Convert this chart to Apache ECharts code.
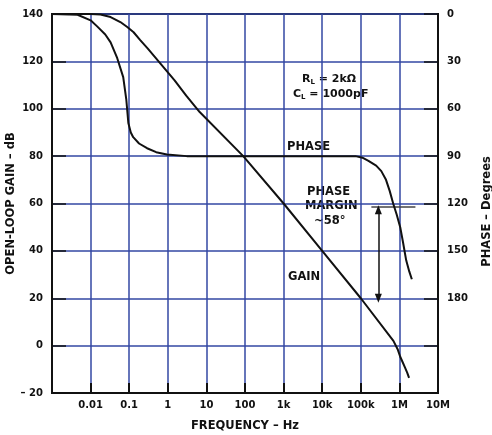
<!DOCTYPE html>
<html>
<head>
<meta charset="utf-8">
<script src="https://cdn.jsdelivr.net/npm/echarts@6/dist/echarts.min.js"></script>
<style>
html,body{margin:0;padding:0;background:#fff;}
#main{width:492px;height:435px;}
</style>
</head>
<body>
<div id="main"></div>
<script>
// open-loop gain vs frequency
var gainFreq = [0.001, 0.01, 0.018, 0.033, 0.059, 0.089, 0.13, 0.193, 0.3, 0.63, 1.5, 3, 6.7, 90, 1000, 10000, 100000, 700000, 900000, 1050000, 1200000, 1400000, 1600000, 1780000];
var gainDb   = [140, 140, 139.8, 138.7, 136.6, 134.5, 132.3, 129, 125.5, 119.3, 112, 105.5, 98.6, 80, 60, 40, 20, 2, -1.5, -4.7, -6.8, -9.3, -11.5, -13.6];

// phase, degrees (right axis, inverted)
var phaseFreq = [0.001, 0.0046, 0.01, 0.015, 0.024, 0.033, 0.049, 0.07, 0.084, 0.095, 0.11, 0.127, 0.18, 0.29, 0.5, 0.95, 3.1, 73000, 110000, 158000, 250000, 340000, 450000, 560000, 690000, 850000, 1050000, 1250000, 1500000, 1800000, 2100000];
var phaseDeg  = [0, 0.5, 4, 8, 13, 18, 28, 40, 54, 69, 75, 78, 82, 85, 87.5, 89, 90, 90, 91, 93, 96, 99.5, 105, 112, 120, 127, 135, 145, 156, 163, 168];

var freqLabels = ['', '0.01', '0.1', '1', '10', '100', '1k', '10k', '100k', '1M', '10M'];
var gainTicks = [-20, 0, 20, 40, 60, 80, 100, 120, 140];
var phaseTicks = [0, 30, 60, 90, 120, 150, 180];

var marginDeg = 122;
var marginFreq = 285000;

function pairs(xs, ys) {
    var out = [];
    for (var i = 0; i < xs.length; i++) out.push([xs[i], ys[i]]);
    return out;
}

var gridBlue = '#3347a3';
var fontFam = '"DejaVu Sans", sans-serif';
var labelFont = 'bold 11.5px ' + fontFam;

var myChart = echarts.init(document.getElementById('main'));
var option = {
    animation: false,
    grid: {
        left: 52, right: 54, top: 14, bottom: 42,
        outerBoundsMode: 'none',
        containLabel: false,
        show: true, borderColor: '#111', borderWidth: 2
    },
    xAxis: {
        type: 'log',
        logBase: 10,
        min: 0.001,
        max: 10000000,
        interval: 1,
        name: 'FREQUENCY – Hz',
        nameLocation: 'middle',
        nameGap: 27,
        nameMoveOverlap: false,
        nameTextStyle: {color: '#111', fontWeight: 'bold', fontSize: 11.5, fontFamily: fontFam},
        axisLine: {onZero: false, lineStyle: {color: '#111', width: 2}},
        axisTick: {inside: true, length: 10, lineStyle: {color: '#111', width: 2}},
        axisLabel: {
            color: '#111', fontWeight: 'bold', fontSize: 10, fontFamily: fontFam, margin: 7,
            formatter: function (v) {
                var k = Math.round(Math.log10(v)) + 3;
                return freqLabels[k] || '';
            }
        },
        splitLine: {show: true, lineStyle: {color: gridBlue, width: 1.5}}
    },
    yAxis: [{
        type: 'value',
        min: -20, max: 140, interval: 20,
        name: 'OPEN-LOOP GAIN – dB',
        nameLocation: 'middle',
        nameRotate: 90,
        nameGap: 35,
        nameMoveOverlap: false,
        nameTextStyle: {color: '#111', fontWeight: 'bold', fontSize: 11.5, fontFamily: fontFam},
        axisLine: {onZero: false, lineStyle: {color: '#111', width: 2}},
        axisTick: {inside: true, length: 14, lineStyle: {color: '#111', width: 1.5}},
        axisLabel: {
            color: '#111', fontWeight: 'bold', fontSize: 10, fontFamily: fontFam, margin: 9,
            formatter: function (v) {
                if (gainTicks.indexOf(v) < 0) return '';
                return v < 0 ? '– ' + Math.abs(v) : String(v);
            }
        },
        splitLine: {show: true, lineStyle: {color: gridBlue, width: 1.5}}
    }, {
        type: 'value',
        inverse: true,
        min: 0, max: 240, interval: 30,
        position: 'right',
        name: 'PHASE – Degrees',
        nameLocation: 'middle',
        nameRotate: 90,
        nameGap: 43,
        nameMoveOverlap: false,
        nameTextStyle: {color: '#111', fontWeight: 'bold', fontSize: 11.5, fontFamily: fontFam, padding: [0, 16, 0, 0]},
        axisLine: {show: true, onZero: false, lineStyle: {color: '#111', width: 2}},
        axisTick: {inside: true, length: 14, lineStyle: {color: '#111', width: 1.5}},
        axisLabel: {
            color: '#111', fontWeight: 'bold', fontSize: 10, fontFamily: fontFam, margin: 9,
            formatter: function (v) {
                return phaseTicks.indexOf(v) < 0 ? '' : String(v);
            }
        },
        splitLine: {show: false}
    }],
    series: [{
        name: 'GAIN',
        type: 'line',
        yAxisIndex: 0,
        data: pairs(gainFreq, gainDb),
        showSymbol: false,
        lineStyle: {color: '#111', width: 2},
        z: 5
    }, {
        name: 'PHASE',
        type: 'line',
        yAxisIndex: 1,
        data: pairs(phaseFreq, phaseDeg),
        showSymbol: false,
        lineStyle: {color: '#111', width: 2},
        z: 5,
        markLine: {
            silent: true,
            animation: false,
            label: {show: false},
            data: [
                [{coord: [188000, marginDeg], symbol: 'none'}, {coord: [2600000, marginDeg], symbol: 'none', lineStyle: {color: '#444', width: 1.5, type: 'solid'}}],
                [{coord: [marginFreq, marginDeg + 2], symbol: 'triangle', symbolSize: [7, 9]}, {coord: [marginFreq, 180], symbol: 'triangle', symbolSize: [7, 9], lineStyle: {color: '#111', width: 1.5, type: 'solid'}}]
            ],
            lineStyle: {color: '#111', width: 1.5, type: 'solid'}
        }
    }],
    graphic: [
        {type: 'text', left: 302, top: 73, style: {
            rich: {
                a: {fontFamily: fontFam, fontWeight: 'bold', fontSize: 11, fill: '#111'},
                s: {fontFamily: fontFam, fontWeight: 'bold', fontSize: 7, fill: '#111', padding: [6, 0, 0, 0]}
            },
            text: '{a|R}{s|L}{a| = 2kΩ}', backgroundColor: '#fff'
        }},
        {type: 'text', left: 293, top: 88, style: {
            rich: {
                a: {fontFamily: fontFam, fontWeight: 'bold', fontSize: 11, fill: '#111'},
                s: {fontFamily: fontFam, fontWeight: 'bold', fontSize: 7, fill: '#111', padding: [6, 0, 0, 0]}
            },
            text: '{a|C}{s|L}{a| = 1000pF}', backgroundColor: '#fff'
        }},
        {type: 'text', left: 285, top: 140, style: {text: 'PHASE', font: labelFont, fill: '#111', backgroundColor: '#fff', padding: [1, 2]}},
        {type: 'text', left: 305, top: 186, style: {text: 'PHASE', font: labelFont, fill: '#111', backgroundColor: '#fff', padding: [0, 2]}},
        {type: 'text', left: 303, top: 200, style: {text: 'MARGIN', font: labelFont, fill: '#111', backgroundColor: '#fff', padding: [0, 2]}},
        {type: 'text', left: 312, top: 215, style: {text: '~58°', font: labelFont, fill: '#111', backgroundColor: '#fff', padding: [0, 2]}},
        {type: 'text', left: 286, top: 270, style: {text: 'GAIN', font: labelFont, fill: '#111', backgroundColor: '#fff', padding: [1, 2]}}
    ]
};
myChart.setOption(option);
</script>
</body>
</html>
